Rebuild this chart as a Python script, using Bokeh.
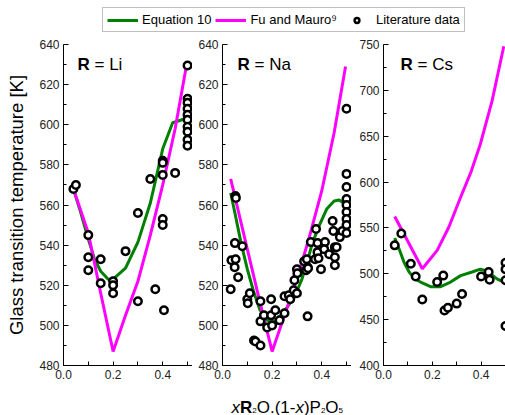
from bokeh.plotting import figure
from bokeh.models import (Range1d, FixedTicker, Label, Legend, LegendItem,
                          PrintfTickFormatter, ColumnDataSource)
from bokeh.layouts import column, row
from bokeh.embed import file_html
from bokeh.resources import INLINE
from bokeh.core.properties import value

FONT = "Liberation Sans"
GREEN = "#008000"
MAGENTA = "#ff00ff"

# ---- R = Li ----
li_eq10_x = [0.04, 0.07, 0.10, 0.125, 0.15, 0.18, 0.20, 0.25, 0.30, 0.35, 0.40, 0.44, 0.49]
li_eq10_T = [568, 556, 543, 533, 527, 523, 523, 528.5, 541.5, 561, 588, 601, 603]
li_fm_x = [0.04, 0.10, 0.15, 0.20, 0.25, 0.30, 0.35, 0.40, 0.45, 0.495]
li_fm_T = [568, 546, 516, 487, 505, 522, 545, 570, 598, 629]
li_lit_x = [0.04, 0.05, 0.10, 0.10, 0.10, 0.15, 0.15, 0.20, 0.20, 0.20, 0.25, 0.30, 0.30,
            0.35, 0.37, 0.40, 0.40, 0.40, 0.40, 0.40, 0.405, 0.45,
            0.50, 0.50, 0.50, 0.50, 0.50, 0.50, 0.50, 0.50, 0.50, 0.50]
li_lit_T = [568, 570, 545, 534, 527.5, 533, 521, 522, 520, 516, 537, 556, 512,
            573, 518, 582, 581, 575, 553, 550, 507.5, 576,
            629.5, 613, 611, 608, 605, 602.5, 599, 596.5, 592.5, 589.5]

# ---- R = Na ----
na_eq10_x = [0.033, 0.05, 0.075, 0.10, 0.125, 0.15, 0.18, 0.21, 0.235, 0.26, 0.29, 0.32,
             0.34, 0.36, 0.387, 0.42, 0.45, 0.47, 0.50]
na_eq10_T = [566, 556, 541, 528, 517, 508, 502.5, 502, 505, 509, 514, 523,
             531, 540, 549, 558, 562, 562.5, 560]
na_fm_x = [0.033, 0.10, 0.15, 0.20, 0.25, 0.30, 0.35, 0.40, 0.45, 0.496]
na_fm_T = [573, 538, 512, 487, 505, 523, 544, 567, 596, 629]
na_lit_x = [0.033, 0.036, 0.049, 0.053, 0.05, 0.052, 0.054, 0.063, 0.08, 0.10, 0.102, 0.11,
            0.127, 0.133, 0.153, 0.153, 0.153, 0.167, 0.18, 0.196, 0.196, 0.20, 0.213, 0.23,
            0.25, 0.25, 0.267, 0.273, 0.287, 0.29, 0.30, 0.30, 0.302, 0.329, 0.34, 0.337,
            0.343, 0.345, 0.343, 0.356, 0.373, 0.377, 0.383, 0.383, 0.387, 0.397, 0.413,
            0.41, 0.43, 0.444, 0.447, 0.453, 0.453, 0.453, 0.46, 0.473, 0.483,
            0.50, 0.50, 0.50, 0.50, 0.50, 0.50, 0.50, 0.50, 0.50]
na_lit_T = [518, 532.5, 529, 533, 541, 564.5, 563.5, 524, 539.5, 513, 511, 516,
            492.5, 492, 490, 512, 502, 505, 499, 513, 505, 500, 507.5, 502.5,
            506, 514.5, 515, 513, 517.5, 522.5, 528, 516, 526, 532, 533, 527.5,
            529, 528.5, 504.5, 541.5, 533, 548, 541, 536.5, 533.5, 528, 541.5,
            538, 535.5, 552, 547, 539, 534, 530, 539, 544, 547,
            608, 575.5, 569, 563, 560, 556.5, 553, 550, 546]

# ---- R = Cs ----
cs_eq10_x = [0.046, 0.064, 0.085, 0.105, 0.13, 0.152, 0.193, 0.234, 0.275, 0.316, 0.363,
             0.397, 0.424, 0.465, 0.50]
cs_eq10_T = [539, 527, 512, 502, 494, 491, 486, 486, 491, 498, 502, 505, 503, 494.5, 490]
cs_fm_x = [0.046, 0.159, 0.22, 0.268, 0.316, 0.36, 0.397, 0.445, 0.493]
cs_fm_T = [562.5, 505.5, 525.5, 551, 583.5, 612, 641.5, 688.5, 748]
cs_lit_x = [0.046, 0.073, 0.112, 0.132, 0.159, 0.22, 0.245, 0.25, 0.264, 0.30, 0.322,
            0.40, 0.431, 0.435, 0.50, 0.50, 0.50, 0.50]
cs_lit_T = [531, 544, 511, 497, 472, 491, 498, 460, 463, 467.5, 478,
            497, 502, 493.5, 512, 505, 493, 443]

x_ticks = [0.0, 0.2, 0.4]
x_minor = [0.1, 0.3, 0.5]
li_na_ticks = [480, 500, 520, 540, 560, 580, 600, 620, 640]
li_na_minor = [490, 510, 530, 550, 570, 590, 610, 630]
cs_ticks = [400, 450, 500, 550, 600, 650, 700, 750]
cs_minor = [425, 475, 525, 575, 625, 675, 725]

# pieces of the composition label xR2O.(1-x)P2O5
title_text = ["x", "R", "2", "O.(1-", "x", ")P", "2", "O", "5"]
title_style = ["italic", "bold", "normal", "normal", "italic", "normal", "normal", "normal", "normal"]
title_size = ["17px", "17px", "8px", "17px", "17px", "17px", "8px", "17px", "8px"]


def panel(width, border_left, x_end, y_lo, y_hi, y_ticks, y_minor,
          eq_x, eq_T, fm_x, fm_T, lit_x, lit_T, metal, r_dx, y_label=None):
    p = figure(width=width, height=350, output_backend="svg", toolbar_location=None,
               x_range=Range1d(0, x_end), y_range=Range1d(y_lo, y_hi),
               min_border_left=border_left, min_border_right=0,
               min_border_top=10, min_border_bottom=19)
    p.outline_line_color = None
    p.grid.visible = False
    p.background_fill_color = "white"
    p.border_fill_color = "white"

    p.line(eq_x, eq_T, line_color=GREEN, line_width=3)
    p.line(fm_x, fm_T, line_color=MAGENTA, line_width=3)
    p.scatter(lit_x, lit_T, marker="circle", size=7.5, line_color="black",
              line_width=2.5, fill_color="white")

    p.xaxis.ticker = FixedTicker(ticks=x_ticks, minor_ticks=x_minor)
    p.xaxis.formatter = PrintfTickFormatter(format="%.1f")
    p.yaxis.ticker = FixedTicker(ticks=y_ticks, minor_ticks=y_minor)
    for ax in (p.xaxis[0], p.yaxis[0]):
        ax.axis_line_color = "black"
        ax.major_tick_line_color = "black"
        ax.minor_tick_line_color = "black"
        ax.major_tick_out = 0
        ax.minor_tick_out = 0
        ax.major_label_text_font = FONT
        ax.major_label_text_font_size = "12px"
        ax.major_label_text_color = "#222222"
    p.xaxis.major_tick_in = 4
    p.xaxis.minor_tick_in = 4
    p.yaxis.major_tick_in = 5
    p.yaxis.minor_tick_in = 3
    p.xaxis.major_label_standoff = 4
    p.yaxis.major_label_standoff = 4
    if y_label:
        p.yaxis.axis_label = y_label
        p.yaxis.axis_label_text_font = FONT
        p.yaxis.axis_label_text_font_size = "18.5px"
        p.yaxis.axis_label_text_font_style = "normal"
        p.yaxis.axis_label_text_color = "black"
        p.yaxis.axis_label_standoff = 9

    # panel heading "R = M"
    p.add_layout(Label(x=0, y=y_hi, x_offset=r_dx, y_offset=-20, text="R",
                       text_font=FONT, text_font_size="17px", text_font_style="bold",
                       text_baseline="alphabetic", text_color="black"))
    p.add_layout(Label(x=0, y=y_hi, x_offset=r_dx + 17, y_offset=-20, text="= " + metal,
                       text_font=FONT, text_font_size="17px",
                       text_baseline="alphabetic", text_color="black"))
    return p


p_li = panel(192, 63, 0.52, 480, 640, li_na_ticks, li_na_minor,
             li_eq10_x, li_eq10_T, li_fm_x, li_fm_T, li_lit_x, li_lit_T, "Li", 14,
             y_label="Glass transition temperature [K]")
p_na = panel(159, 30, 0.52, 480, 640, li_na_ticks, li_na_minor,
             na_eq10_x, na_eq10_T, na_fm_x, na_fm_T, na_lit_x, na_lit_T, "Na", 15)
p_cs = panel(154, 32, 0.50, 400, 750, cs_ticks, cs_minor,
             cs_eq10_x, cs_eq10_T, cs_fm_x, cs_fm_T, cs_lit_x, cs_lit_T, "Cs", 17)

# legend strip on top
head = figure(width=505, height=34, output_backend="svg", toolbar_location=None,
              x_range=Range1d(0, 1), y_range=Range1d(0, 1),
              x_axis_type=None, y_axis_type=None, min_border=0)
head.outline_line_color = None
r_eq = head.line([5, 6], [5, 6], line_color=GREEN, line_width=3)
r_fm = head.line([5, 6], [5, 6], line_color=MAGENTA, line_width=3)
r_lit = head.scatter([5], [5], marker="circle", size=7.5, line_color="black",
                     line_width=2.5, fill_color="white")
legend = Legend(items=[LegendItem(label="Equation 10", renderers=[r_eq]),
                       LegendItem(label="Fu and Mauro\u2079", renderers=[r_fm]),
                       LegendItem(label="Literature data", renderers=[r_lit])],
                location=(102, 2), orientation="horizontal",
                glyph_width=31, glyph_height=12, label_height=12, label_standoff=4,
                spacing=4, padding=4, margin=0,
                border_line_color="#808080", border_line_width=1,
                background_fill_color="white", background_fill_alpha=1,
                label_text_font=FONT, label_text_font_size="13px",
                label_text_color="black")
head.add_layout(legend, "center")

# strip at the bottom carrying the shared x-axis title
foot = figure(width=505, height=31, output_backend="svg", toolbar_location=None,
              x_range=Range1d(0, 505), y_range=Range1d(0, 31),
              x_axis_type=None, y_axis_type=None, min_border=0)
foot.outline_line_color = None
# horizontal pen positions (px) and baselines of each piece in the strip
title_px = [231.0, 239.5, 251.8, 256.2, 294.9, 303.4, 320.4, 324.8, 338.0]
title_py = [8.5, 8.5, 5.0, 8.5, 8.5, 8.5, 5.0, 8.5, 5.0]
title_src = ColumnDataSource(dict(x=title_px, y=title_py, text=title_text,
                                  style=title_style, size=title_size))
foot.text(x="x", y="y", text="text", source=title_src, text_font=value(FONT),
          text_font_size="size", text_font_style="style",
          text_baseline="alphabetic", text_align="left", text_color="black")

layout = column(head, row(p_li, p_na, p_cs), foot)
open("out.html", "w").write(file_html(layout, INLINE))
